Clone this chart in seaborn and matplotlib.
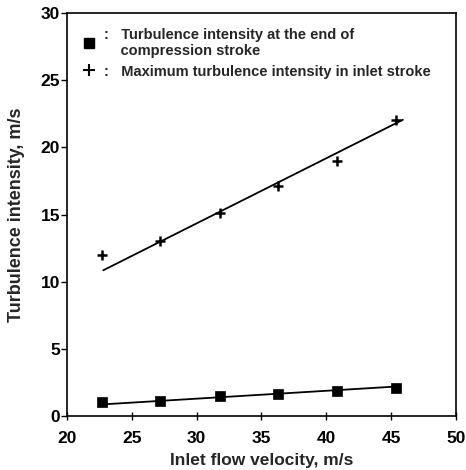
import matplotlib
matplotlib.use("Agg")
import matplotlib.pyplot as plt
from matplotlib.lines import Line2D
import seaborn as sns
import pandas as pd

# Measured points
inlet_velocity = [22.7, 27.2, 31.8, 36.3, 40.8, 45.4]
ti_end_compression = [1.05, 1.1, 1.5, 1.65, 1.85, 2.1]
ti_max_inlet = [12.0, 13.0, 15.1, 17.1, 19.0, 22.0]

# Fitted trend lines (end points)
fit_x_compression = [22.5, 45.5]
fit_y_compression = [0.85, 2.2]
fit_x_inlet = [22.8, 45.9]
fit_y_inlet = [10.85, 22.05]

x_ticks = [20, 25, 30, 35, 40, 45, 50]
y_ticks = [0, 5, 10, 15, 20, 25, 30]

label_compression = "Turbulence intensity at the end of\ncompression stroke"
label_inlet = "Maximum turbulence intensity in inlet stroke"

sns.set_style("ticks")
plt.rcParams["font.family"] = ["Liberation Sans", "DejaVu Sans"]
plt.rcParams["font.weight"] = "bold"
plt.rcParams["axes.labelweight"] = "bold"

fig = plt.figure(figsize=(4.66, 4.70), dpi=100)
ax = fig.add_axes([0.1438, 0.1149, 0.8347, 0.8574])

pts = pd.DataFrame({"v": inlet_velocity, "c": ti_end_compression, "m": ti_max_inlet})

sns.lineplot(x=fit_x_compression, y=fit_y_compression, ax=ax, color="black", lw=1.3)
sns.lineplot(x=fit_x_inlet, y=fit_y_inlet, ax=ax, color="black", lw=1.3)
sns.scatterplot(data=pts, x="v", y="c", ax=ax, marker="s", s=50, color="black",
                edgecolor="black", linewidth=0.5, zorder=3)
sns.scatterplot(data=pts, x="v", y="m", ax=ax, marker="+", s=50, color="black",
                linewidth=1.8, zorder=3)

ax.set_xlim(20, 50)
ax.set_ylim(0, 30)
ax.set_xticks(x_ticks)
ax.set_yticks(y_ticks)
ax.set_xlabel("Inlet flow velocity, m/s", fontsize=12.5, labelpad=5)
ax.set_ylabel("Turbulence intensity, m/s", fontsize=13, labelpad=11)
ax.tick_params(axis="x", direction="inout", length=6, width=1, labelsize=12.5, pad=8, colors="black")
ax.tick_params(axis="y", direction="out", length=4, width=1, labelsize=12.5, pad=1, colors="black")
for sp in ax.spines.values():
    sp.set_visible(True)
    sp.set_color("black")
    sp.set_linewidth(1.2)

handles = [
    Line2D([], [], marker="s", ls="none", color="black", markersize=6.5),
    Line2D([], [], marker="+", ls="none", color="black", markersize=8, markeredgewidth=1.5),
]
labels = [":   " + label_compression.replace("\n", "\n    "), ":   " + label_inlet]
ax.legend(handles, labels, loc="upper left", bbox_to_anchor=(0.0, 1.0), frameon=False,
          fontsize=10.5, handlelength=1.0, handletextpad=0.55, labelspacing=0.45,
          borderaxespad=0.5, borderpad=0.51)

fig.savefig("out.png", dpi=100)
